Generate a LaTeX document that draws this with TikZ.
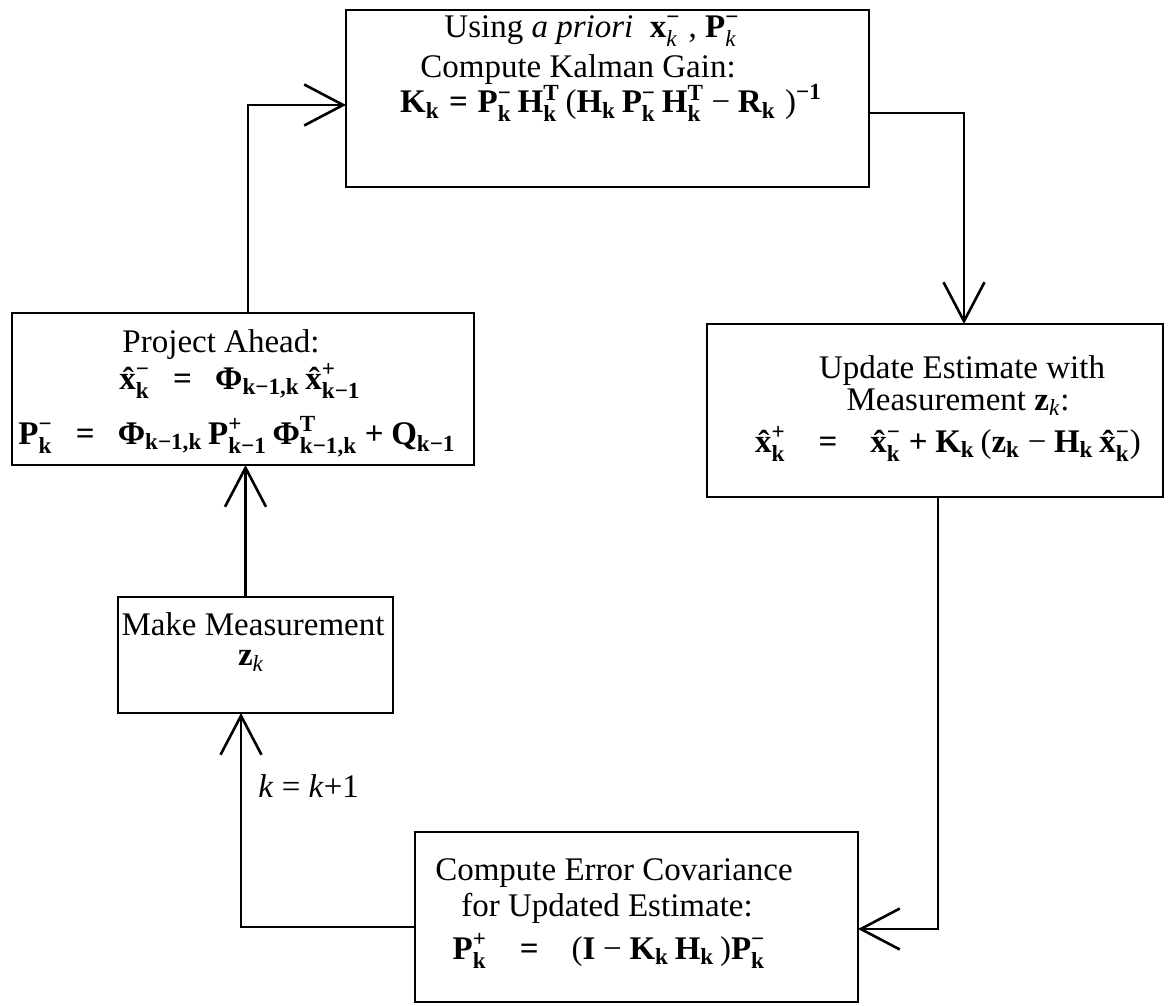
\documentclass[tikz,border=0pt]{standalone}
\usepackage{amsmath}
\usepackage{fontspec}
\setmainfont{Liberation Serif}
\usetikzlibrary{arrows.meta}
\newcommand\bx[1]{\text{\bfseries #1}}
\newcommand\ik{\text{\itshape k}}
\newcommand\gapq{\hspace{0.7em}}
\begin{document}
\begin{tikzpicture}[x=0.5pt,y=-0.5pt,
  box/.style={draw, line width=1.4pt, inner sep=0pt, outer sep=0pt},
  txt/.style={inner sep=0pt, anchor=center, font=\fontsize{16.5}{19}\selectfont},
  arr/.style={line width=1.3pt, -{Straight Barb[length=19.5pt,width=20.5pt,line width=1.3pt]}}]
\useasboundingbox (0,0) rectangle (1174,1006);
% boxes
\node[box, minimum width=261.5pt, minimum height=88.5pt] (T) at (607.5,98.5) {};
\node[box, minimum width=231pt, minimum height=76pt] (L) at (243,389) {};
\node[box, minimum width=228pt, minimum height=86.5pt] (R) at (935,410.5) {};
\node[box, minimum width=137.5pt, minimum height=58pt] (M) at (255.5,655) {};
\node[box, minimum width=221.5pt, minimum height=85pt] (B) at (636.5,917) {};
% texts: top
\node[txt] (t1) at (592,31) {Using \textit{a priori}\ \ $\bx{x}^{\bx{−}}_{\ik}$\ , $\bx{P}^{\bx{−}}_{\ik}$};
\node[txt] (t2) at (578,70) {Compute Kalman Gain:};
\node[txt] (t3) at (611,103) {$\bx{K}_{\bx{k}} \mathrel{\bx{=}} \bx{P}^{\bx{−}}_{\bx{k}}\,\bx{H}^{\bx{T}}_{\bx{k}}\,\text{(}\bx{H}_{\bx{k}}\,\bx{P}^{\bx{−}}_{\bx{k}}\,\bx{H}^{\bx{T}}_{\bx{k}} \mathbin{\text{−}} \bx{R}_{\bx{k}}\;\text{)}^{\bx{−1}}$};
% texts: left
\node[txt] (l1) at (221,345) {Project Ahead:};
\node[txt] (l2) at (240,381) {$\bx{\^x}^{\bx{−}}_{\bx{k}} \gapq\bx{=}\gapq \bx{Φ}_{\bx{k−1,k}}\,\bx{\^x}^{\bx{+}}_{\bx{k−1}}$};
\node[txt] (l3) at (237,437) {$\bx{P}^{\bx{−}}_{\bx{k}} \gapq\bx{=}\gapq \bx{Φ}_{\bx{k−1,k}}\,\bx{P}^{\bx{+}}_{\bx{k−1}}\,\bx{Φ}^{\bx{T}}_{\bx{k−1,k}} \mathbin{\bx{+}} \bx{Q}_{\bx{k−1}}$};
% texts: right
\node[txt] (r1) at (962,371) {Update Estimate with};
\node[txt] (r2) at (958,402) {Measurement $\bx{z}_{\ik}$:};
\node[txt] (r3) at (948,444) {$\bx{\^x}^{\bx{+}}_{\bx{k}} \quad\bx{=}\quad \bx{\^x}^{\bx{−}}_{\bx{k}} \mathbin{\bx{+}} \bx{K}_{\bx{k}}\,\text{(}\bx{z}_{\bx{k}} \mathbin{\text{−}} \bx{H}_{\bx{k}}\,\bx{\^x}^{\bx{−}}_{\bx{k}}\text{)}$};
% texts: measurement
\node[txt] (m1) at (253,624) {Make Measurement};
\node[txt] (m2) at (251,661) {$\bx{z}_{\ik}$};
% texts: bottom
\node[txt] (b1) at (614,873) {Compute Error Covariance};
\node[txt] (b2) at (607,908) {for Updated Estimate:};
\node[txt] (b3) at (609,951) {$\bx{P}^{\bx{+}}_{\bx{k}} \quad\bx{=}\quad \text{(}\bx{I} \mathbin{\text{−}} \bx{K}_{\bx{k}}\,\bx{H}_{\bx{k}}\,\text{)}\bx{P}^{\bx{−}}_{\bx{k}}$};
% label
\node[txt, anchor=west] (kl) at (258,786) {\textit{k} = \textit{k}+1};
% connectors
\draw[arr] ([xshift=2.5pt]L.north) |- ([yshift=-3.25pt]T.west);
\draw[arr] ([yshift=-7.25pt]T.east) -| ([xshift=14.5pt]R.north);
\draw[arr] ([xshift=1.5pt]R.south) |- ([yshift=-6pt]B.east);
\draw[arr] ([yshift=-5pt]B.west) -| ([xshift=-7.25pt]M.south);
\draw[arr] ([xshift=-5pt]M.north) -- ([xshift=-5pt]M.north |- L.south);
\end{tikzpicture}
\end{document}
